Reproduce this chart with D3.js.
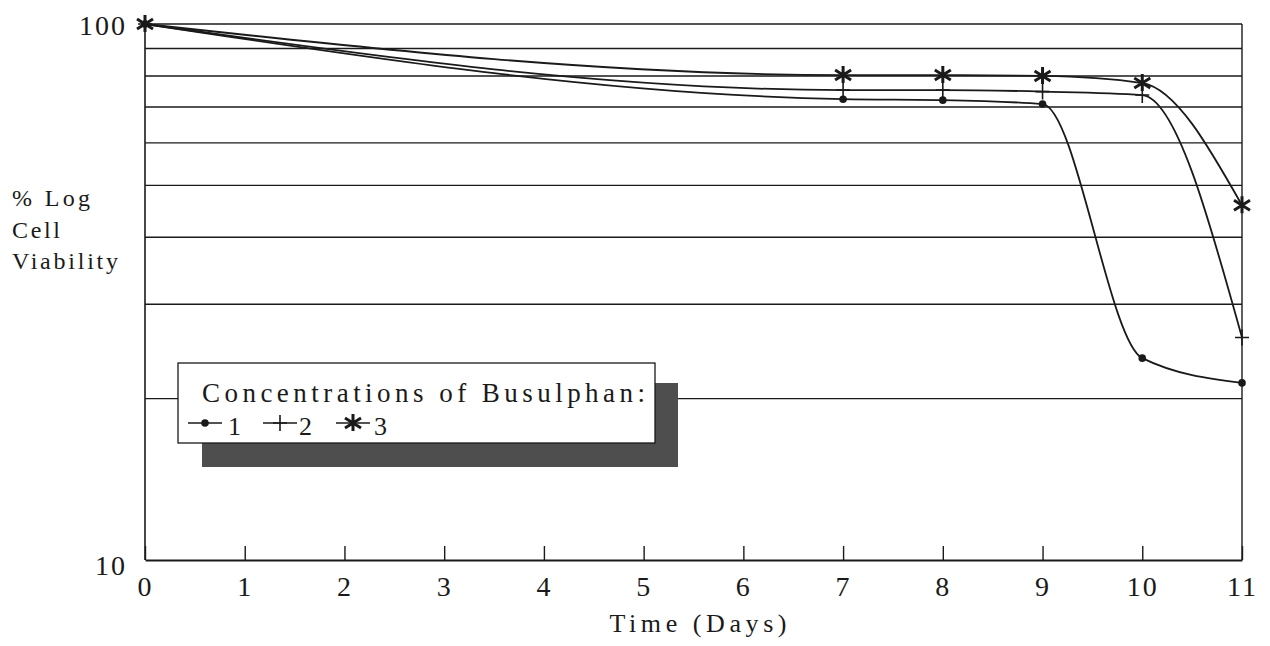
<!DOCTYPE html>
<html>
<head>
<meta charset="utf-8">
<script src="https://cdn.jsdelivr.net/npm/d3@7"></script>
<style>
  html, body { margin: 0; padding: 0; background: #fff; }
  svg { display: block; }
  text { font-family: "Liberation Serif", "Times New Roman", serif; fill: #1a1a1a; }
</style>
</head>
<body>
<svg id="chart" width="1270" height="646"></svg>
<script>
// ---- data ----
const days = [0, 7, 8, 9, 10, 11];
const conc1 = [100, 72.4, 72.1, 70.9, 23.8, 21.4];
const conc2 = [100, 75.3, 75.3, 74.8, 73.7, 26.0];
const conc3 = [100, 80.3, 80.3, 80.0, 77.6, 45.9];
const seriesNames = ["1", "2", "3"];
const xTicks = [0, 1, 2, 3, 4, 5, 6, 7, 8, 9, 10, 11];
const yTickLabels = [10, 100];
const gridValues = [20, 30, 40, 50, 60, 70, 80, 90, 100];
const legendTitle = "Concentrations of Busulphan:";
const xTitle = "Time (Days)";
const yTitleLines = ["% Log", "Cell", "Viability"];

// ---- layout ----
const svg = d3.select("#chart");
const pLeft = 145, pRight = 1242, pTop = 24, pBottom = 560;
const x = d3.scaleLinear().domain([0, 11]).range([pLeft, pRight]);
const y = d3.scaleLog().domain([10, 100]).range([pBottom, pTop]);
const ink = "#1a1a1a";

// gridlines
svg.append("g").selectAll("line").data(gridValues).join("line")
  .attr("x1", pLeft).attr("x2", pRight)
  .attr("y1", d => y(d)).attr("y2", d => y(d))
  .attr("stroke", ink).attr("stroke-width", 1.4);

// plot frame: left axis, right edge
svg.append("line").attr("x1", pLeft).attr("x2", pLeft).attr("y1", pTop).attr("y2", pBottom)
  .attr("stroke", ink).attr("stroke-width", 1.6);
svg.append("line").attr("x1", pRight).attr("x2", pRight).attr("y1", pTop).attr("y2", pBottom)
  .attr("stroke", ink).attr("stroke-width", 1.4);

// x axis with inward ticks
const xAxis = d3.axisBottom(x).tickValues(xTicks).tickSizeInner(-14).tickSizeOuter(0).tickPadding(22);
const gx = svg.append("g").attr("transform", `translate(0,${pBottom})`).call(xAxis);
gx.select(".domain").attr("stroke", ink).attr("stroke-width", 2);
gx.selectAll(".tick line").attr("stroke", ink).attr("stroke-width", 1.4);
gx.selectAll(".tick text")
  .attr("font-size", 28).attr("fill", ink).attr("dy", null).attr("y", 36)
  .style("font-family", '"Liberation Serif", serif')
  .attr("letter-spacing", 2);

// y tick labels (log axis: only 10 and 100 labelled)
const yAxis = d3.axisLeft(y).tickValues(yTickLabels).tickFormat(d3.format("d")).tickSize(0).tickPadding(18);
const gy = svg.append("g").attr("transform", `translate(${pLeft},0)`).call(yAxis);
gy.select(".domain").remove();
gy.selectAll(".tick text")
  .attr("font-size", 28).attr("fill", ink).attr("letter-spacing", 2)
  .style("font-family", '"Liberation Serif", serif')
  .attr("dy", "0.36em")
  .attr("y", d => d === 10 ? 4 : 0);

// axis titles
svg.append("text").attr("x", 698).attr("y", 632).attr("text-anchor", "middle")
  .attr("font-size", 26).attr("textLength", 177).attr("lengthAdjust", "spacing").text(xTitle);
const yLens = [78, 48, 106];
svg.append("g").selectAll("text").data(yTitleLines).join("text")
  .attr("x", 12).attr("y", (d, i) => 206 + i * 31.5)
  .attr("font-size", 24).attr("textLength", (d, i) => yLens[i]).attr("lengthAdjust", "spacing")
  .text(d => d);

// ---- series ----
const series = [conc1, conc2, conc3].map((vals, i) => ({
  name: seriesNames[i], pts: days.map((d, j) => ({ d, v: vals[j] }))
}));
const line = d3.line().x(p => x(p.d)).y(p => y(p.v)).curve(d3.curveMonotoneX);

svg.append("g").selectAll("path").data(series).join("path")
  .attr("d", s => line(s.pts))
  .attr("fill", "none").attr("stroke", ink).attr("stroke-width", 1.8);

const starPath = "M0,-9 L0,8 M-8,-5 L8,5 M-8,5 L8,-5";
function drawMarker(g, idx) {
  if (idx === 0) {
    g.append("circle").attr("r", 3.8).attr("fill", ink);
  } else if (idx === 1) {
    g.append("path").attr("d", "M-7,0 L7,0 M0,-8 L0,8").attr("stroke", ink).attr("stroke-width", 1.6).attr("fill", "none");
  } else {
    g.append("path").attr("d", starPath).attr("stroke", ink).attr("stroke-width", 3).attr("fill", "none");
  }
}
series.forEach((s, i) => {
  s.pts.forEach(p => {
    const g = svg.append("g").attr("transform", `translate(${x(p.d)},${y(p.v)})`);
    drawMarker(g, i);
  });
});

// ---- legend ----
const lg = svg.append("g");
lg.append("rect").attr("x", 202).attr("y", 383).attr("width", 476).attr("height", 84).attr("fill", "#4e4e4e");
lg.append("rect").attr("x", 178).attr("y", 363).attr("width", 477).attr("height", 80)
  .attr("fill", "#fff").attr("stroke", ink).attr("stroke-width", 1.3);
lg.append("text").attr("x", 202).attr("y", 402).attr("font-size", 27)
  .attr("textLength", 443).attr("lengthAdjust", "spacing").text(legendTitle);
const legItems = [
  { x0: 188, x1: 222, tx: 228 },
  { x0: 263, x1: 297, tx: 299 },
  { x0: 336, x1: 370, tx: 374 }
];
legItems.forEach((it, i) => {
  lg.append("line").attr("x1", it.x0).attr("x2", it.x1).attr("y1", 423).attr("y2", 423)
    .attr("stroke", ink).attr("stroke-width", 1.6);
  const g = lg.append("g").attr("transform", `translate(${(it.x0 + it.x1) / 2},423)`);
  drawMarker(g, i);
  lg.append("text").attr("x", it.tx).attr("y", 435).attr("font-size", 26).text(seriesNames[i]);
});
</script>
</body>
</html>
